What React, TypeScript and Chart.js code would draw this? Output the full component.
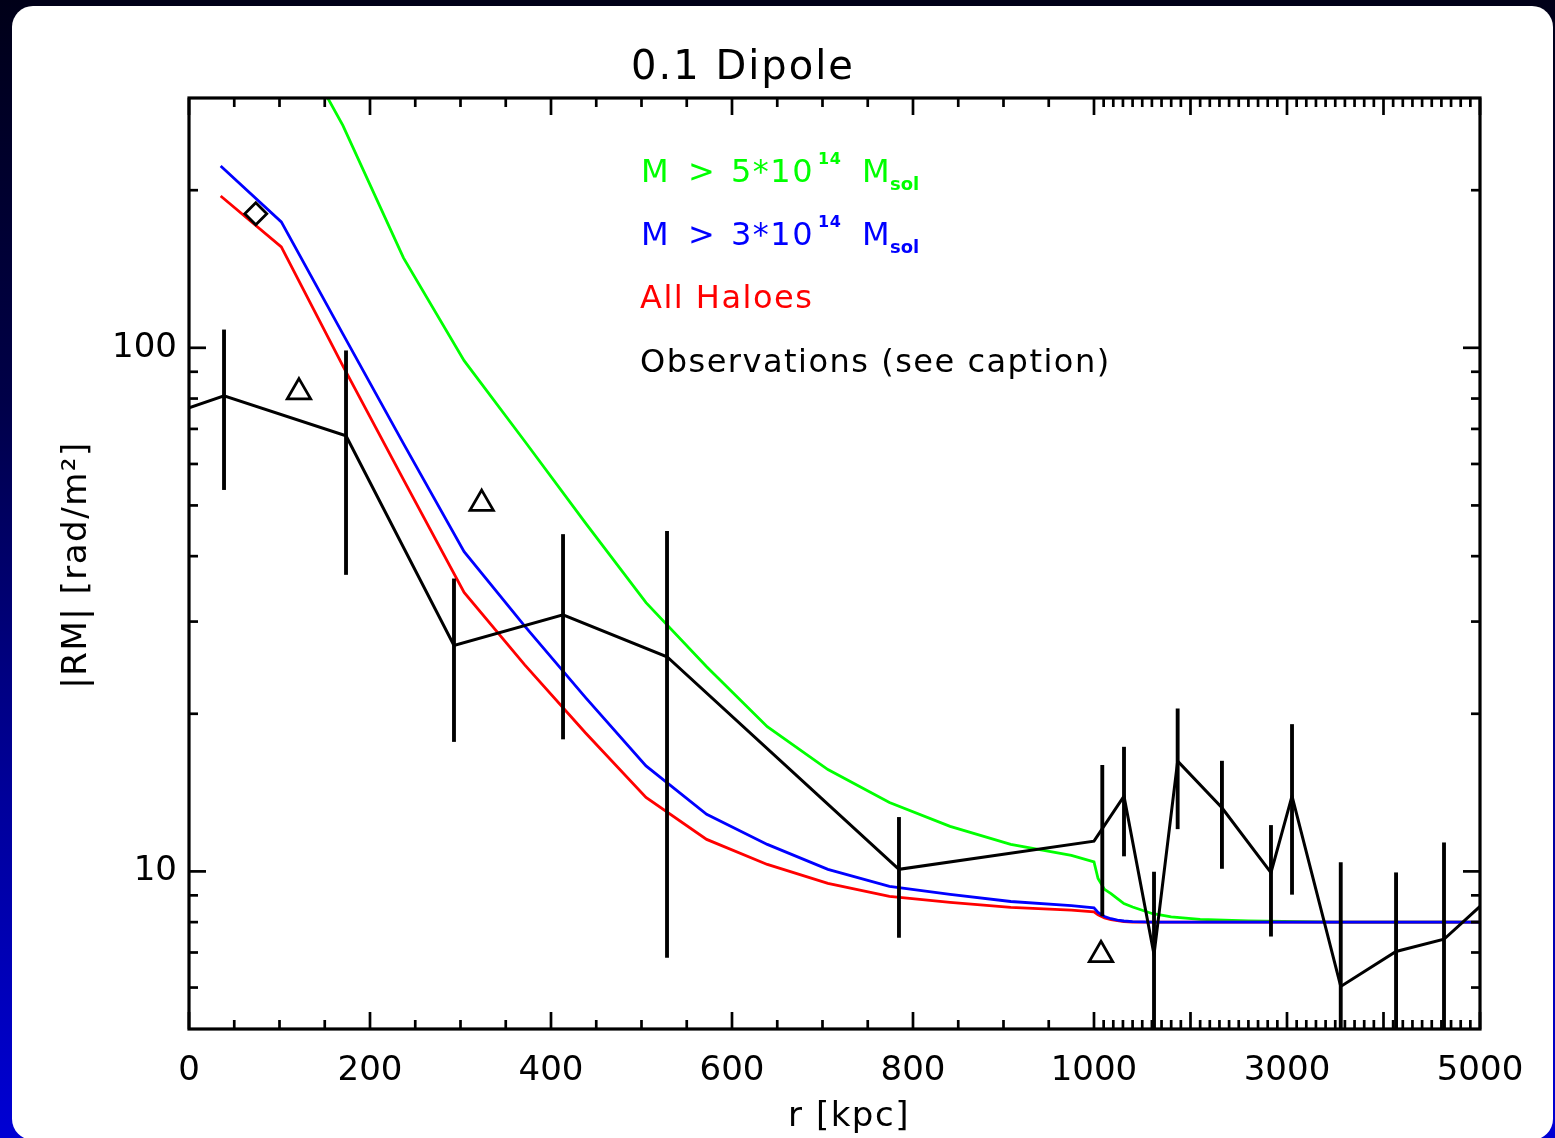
import React, { useEffect, useRef } from 'react';
import { Chart, registerables, LinearScale } from 'chart.js';

Chart.register(...registerables);

// ---------------- data ----------------
// simulated radial grid [kpc]
const SIM_R = [35, 102, 170, 237, 304, 371, 438, 505, 572, 639, 706, 774, 841, 908, 975, 1000, 1042, 1109, 1176, 1243, 1310, 1400, 1600, 1800, 2100, 2600, 3500, 5000];
const GREEN_M5 = [560, 434, 266, 148.5, 94.5, 66.3, 46.3, 32.6, 24.6, 18.9, 15.65, 13.54, 12.19, 11.26, 10.73, 10.43, 9.69, 9.24, 9.07, 8.87, 8.68, 8.55, 8.31, 8.19, 8.1, 8.04, 8.0, 8.0];
const BLUE_M3 = [222.5, 174, 106.3, 65.6, 40.8, 29.4, 21.5, 15.9, 12.85, 11.26, 10.09, 9.36, 9.04, 8.76, 8.6, 8.52, 8.35, 8.2, 8.12, 8.07, 8.04, 8.02, 8.0, 8.0, 8.0, 8.0, 8.0, 8.0];
const RED_ALL = [195, 155.9, 92.4, 56.0, 34.1, 24.8, 18.4, 13.84, 11.51, 10.31, 9.49, 8.96, 8.73, 8.54, 8.43, 8.37, 8.26, 8.15, 8.09, 8.05, 8.02, 8.0, 8.0, 8.0, 8.0, 8.0, 8.0, 8.0];

// observations
const OBS_R = [0, 38.7, 173.5, 292.8, 413.3, 528.2, 784.5, 1000, 1311, 1622, 1867, 2326, 2834, 3052, 3557, 4130, 4627, 5000];
const OBS_RM = [76.8, 81.0, 67.9, 27.0, 30.9, 25.7, 10.09, 11.42, 13.92, 6.94, 16.24, 13.23, 9.94, 13.92, 6.03, 7.03, 7.42, 8.575];

// error bars
const ERR_R = [38.7, 173.5, 292.8, 413.3, 528.2, 784.5, 1086, 1311, 1622, 1867, 2326, 2834, 3052, 3557, 4130, 4627];
const ERR_LO = [53.6, 36.9, 17.7, 17.9, 6.85, 7.48, 8.22, 10.7, 4, 12.06, 10.13, 7.52, 9.04, 4, 4, 4];
const ERR_HI = [108.2, 98.7, 36.2, 44.0, 44.6, 12.68, 15.95, 17.27, 9.97, 20.44, 16.24, 12.24, 19.08, 10.39, 9.94, 11.34];

// single markers
const TRI_R = [121.5, 323.4, 1072.5];
const TRI_RM = [82.3, 50.4, 6.93];
const DIAMOND_R = [73.8];
const DIAMOND_RM = [180.3];

// axes
const X_TICK_LABELS = [0, 200, 400, 600, 800, 1000, 3000, 5000];
const X_MAJOR = [0, 200, 400, 600, 800, 1000, 2000, 3000, 4000, 5000];
const X_MINOR: number[] = [];
for (let v = 50; v < 1000; v += 50) if (v % 200) X_MINOR.push(v);
for (let v = 1100; v < 5000; v += 100) if (v % 1000) X_MINOR.push(v);
const Y_TICK_LABELS = [10, 100];
const Y_MAJOR = [10, 100];
const Y_MINOR = [6, 7, 8, 9, 20, 30, 40, 50, 60, 70, 80, 90, 200];

const TITLE = '0.1 Dipole';
const X_TITLE = 'r [kpc]';
const Y_TITLE = '|RM| [rad/m²]';

// ---------------- broken x scale ----------------
const X_BREAK = 1000;
const X_MIN = 0;
const X_MAX = 5000;
const BREAK_FRAC = 0.701;

function toDecimal(v: number) {
  if (v <= X_BREAK) return ((v - X_MIN) / (X_BREAK - X_MIN)) * BREAK_FRAC;
  return BREAK_FRAC + ((v - X_BREAK) / (X_MAX - X_BREAK)) * (1 - BREAK_FRAC);
}
function fromDecimal(d: number) {
  if (d <= BREAK_FRAC) return X_MIN + (d / BREAK_FRAC) * (X_BREAK - X_MIN);
  return X_BREAK + ((d - BREAK_FRAC) / (1 - BREAK_FRAC)) * (X_MAX - X_BREAK);
}

class BrokenScale extends LinearScale {
  static id = 'broken';
  static defaults = {};
  buildTicks() {
    return X_TICK_LABELS.map((v) => ({ value: v }));
  }
  getPixelForValue(value: any) {
    if (value === null || value === undefined || isNaN(value)) return NaN;
    return this.getPixelForDecimal(toDecimal(value));
  }
  getValueForPixel(pixel: number) {
    return fromDecimal(this.getDecimalForPixel(pixel));
  }
}
Chart.register(BrokenScale as any);

const FONT = '"DejaVu Sans"';

const framePlugin = {
  id: 'frameTicks',
  afterDatasetsDraw(chart: any) {
    const { ctx, chartArea: a, scales } = chart;
    const x = scales.x;
    const y = scales.y;
    ctx.save();
    ctx.strokeStyle = '#000';
    ctx.lineWidth = 2.7;
    ctx.lineCap = 'butt';
    const seg = (x1: number, y1: number, x2: number, y2: number) => {
      ctx.beginPath();
      ctx.moveTo(x1, y1);
      ctx.lineTo(x2, y2);
      ctx.stroke();
    };
    const xt = (vals: number[], len: number) =>
      vals.forEach((v) => {
        const p = x.getPixelForValue(v);
        seg(p, a.bottom, p, a.bottom - len);
        seg(p, a.top, p, a.top + len);
      });
    const yt = (vals: number[], len: number) =>
      vals.forEach((v) => {
        const p = y.getPixelForValue(v);
        seg(a.left, p, a.left + len, p);
        seg(a.right, p, a.right - len, p);
      });
    xt(X_MAJOR, 17);
    xt(X_MINOR, 9);
    yt(Y_MAJOR, 17);
    yt(Y_MINOR, 9);
    ctx.lineWidth = 3.2;
    ctx.strokeRect(a.left, a.top, a.right - a.left, a.bottom - a.top);
    ctx.restore();
  },
};

type Seg = { t: string; x: number; y: number; size: number; bold?: boolean; ls?: number };

const textPlugin = {
  id: 'texts',
  afterDraw(chart: any) {
    const ctx = chart.ctx as any;
    const put = (s: Seg, color: string) => {
      ctx.save();
      ctx.fillStyle = color;
      ctx.font = `${s.bold ? 'bold ' : ''}${s.size}px ${FONT}`;
      ctx.textAlign = 'left';
      ctx.textBaseline = 'alphabetic';
      ctx.letterSpacing = `${s.ls ?? 0}px`;
      ctx.fillText(s.t, s.x, s.y);
      ctx.restore();
    };
    // title
    ctx.save();
    ctx.fillStyle = '#000';
    ctx.font = `40px ${FONT}`;
    ctx.textAlign = 'center';
    ctx.textBaseline = 'alphabetic';
    ctx.letterSpacing = '2px';
    ctx.fillText(TITLE, 743, 79);
    // x title
    ctx.font = `34px ${FONT}`;
    ctx.letterSpacing = '1.5px';
    ctx.fillText(X_TITLE, 849, 1126);
    // y title
    ctx.translate(86, 565);
    ctx.rotate(-Math.PI / 2);
    ctx.fillText(Y_TITLE, 0, 0);
    ctx.restore();

    // legend
    const rowMass = (digit: string, base: number, color: string) => {
      put({ t: 'M', x: 641, y: base, size: 32 }, color);
      put({ t: '>', x: 688, y: base, size: 32 }, color);
      put({ t: digit + '*10', x: 731, y: base, size: 32, ls: 1.5 }, color);
      put({ t: '14', x: 818, y: base - 18, size: 16, bold: true, ls: 0.5 }, color);
      put({ t: 'M', x: 862, y: base, size: 32 }, color);
      put({ t: 'sol', x: 890, y: base + 8, size: 18, bold: true }, color);
    };
    rowMass('5', 182, '#00ff00');
    rowMass('3', 245, '#0000ff');
    put({ t: 'All Haloes', x: 640, y: 308, size: 32, ls: 1.5 }, '#ff0000');
    put({ t: 'Observations (see caption)', x: 640, y: 372, size: 32, ls: 1.5 }, '#000000');
  },
};

export default function App() {
  const ref = useRef<HTMLCanvasElement>(null);
  useEffect(() => {
    const pts = (xs: number[], ys: number[]) => xs.map((v, i) => ({ x: v, y: ys[i] }));
    const lineDs = (label: string, data: any, color: string, width: number) => ({
      type: 'line' as const,
      label,
      data,
      borderColor: color,
      backgroundColor: color,
      borderWidth: width,
      pointRadius: 0,
      tension: 0,
      fill: false,
    });
    const chart = new Chart(ref.current as HTMLCanvasElement, {
      type: 'line',
      data: {
        datasets: [
          {
            type: 'line',
            label: 'triangles',
            data: pts(TRI_R, TRI_RM),
            showLine: false,
            pointStyle: 'triangle',
            pointRadius: 13.5,
            pointBorderWidth: 2.8,
            pointBorderColor: '#000',
            pointBackgroundColor: 'rgba(0,0,0,0)',
          } as any,
          {
            type: 'line',
            label: 'diamond',
            data: pts(DIAMOND_R, DIAMOND_RM),
            showLine: false,
            pointStyle: 'rectRot',
            pointRadius: 11,
            pointBorderWidth: 2.8,
            pointBorderColor: '#000',
            pointBackgroundColor: 'rgba(0,0,0,0)',
          } as any,
          {
            type: 'bar',
            label: 'errors',
            data: ERR_R.map((r, i) => ({ x: r, y: [ERR_LO[i], ERR_HI[i]] })),
            backgroundColor: '#000',
            borderWidth: 0,
            barThickness: 3.2,
            clip: 0,
          } as any,
          lineDs('Observations', pts(OBS_R, OBS_RM), '#000000', 3),
          lineDs('M > 3e14', pts(SIM_R, BLUE_M3), '#0000ff', 2.8),
          lineDs('All Haloes', pts(SIM_R, RED_ALL), '#ff0000', 2.8),
          lineDs('M > 5e14', pts(SIM_R, GREEN_M5), '#00ff00', 2.8),
        ],
      },
      options: {
        responsive: false,
        animation: false,
        devicePixelRatio: 1,
        events: [],
        layout: { padding: { left: 0, top: 98, right: 75, bottom: 0 } },
        plugins: {
          legend: { display: false },
          title: { display: false },
          tooltip: { enabled: false },
        },
        scales: {
          x: {
            type: 'broken' as any,
            min: X_MIN,
            max: X_MAX,
            afterFit: (s: any) => {
              s.height = 109;
            },
            grid: { display: false, drawTicks: false },
            border: { display: false },
            ticks: {
              autoSkip: false,
              maxRotation: 0,
              padding: 22,
              color: '#000',
              font: { family: FONT, size: 34 },
              callback: (v: any) => String(v),
            },
          } as any,
          y: {
            type: 'logarithmic',
            min: 5,
            max: 300,
            afterBuildTicks: (s: any) => {
              s.ticks = Y_TICK_LABELS.map((v) => ({ value: v }));
            },
            afterFit: (s: any) => {
              s.width = 189;
            },
            grid: { display: false, drawTicks: false },
            border: { display: false },
            ticks: {
              autoSkip: false,
              padding: 12,
              color: '#000',
              font: { family: FONT, size: 34 },
              callback: (v: any) => String(v),
            },
          } as any,
        },
      } as any,
      plugins: [framePlugin, textPlugin],
    });
    return () => chart.destroy();
  }, []);

  return (
    <div
      style={{
        position: 'absolute',
        left: 0,
        top: 0,
        width: 1555,
        height: 1138,
        overflow: 'hidden',
        background: 'linear-gradient(to bottom, #000018 0%, #000048 35%, #00009a 70%, #0000d4 100%)',
      }}
    >
      <div
        style={{
          position: 'absolute',
          left: 12,
          top: 6,
          width: 1541,
          height: 1134,
          background: '#ffffff',
          borderRadius: 21,
        }}
      />
      <canvas
        ref={ref}
        width={1555}
        height={1138}
        style={{ position: 'absolute', left: 0, top: 0, width: 1555, height: 1138 }}
      />
    </div>
  );
}
